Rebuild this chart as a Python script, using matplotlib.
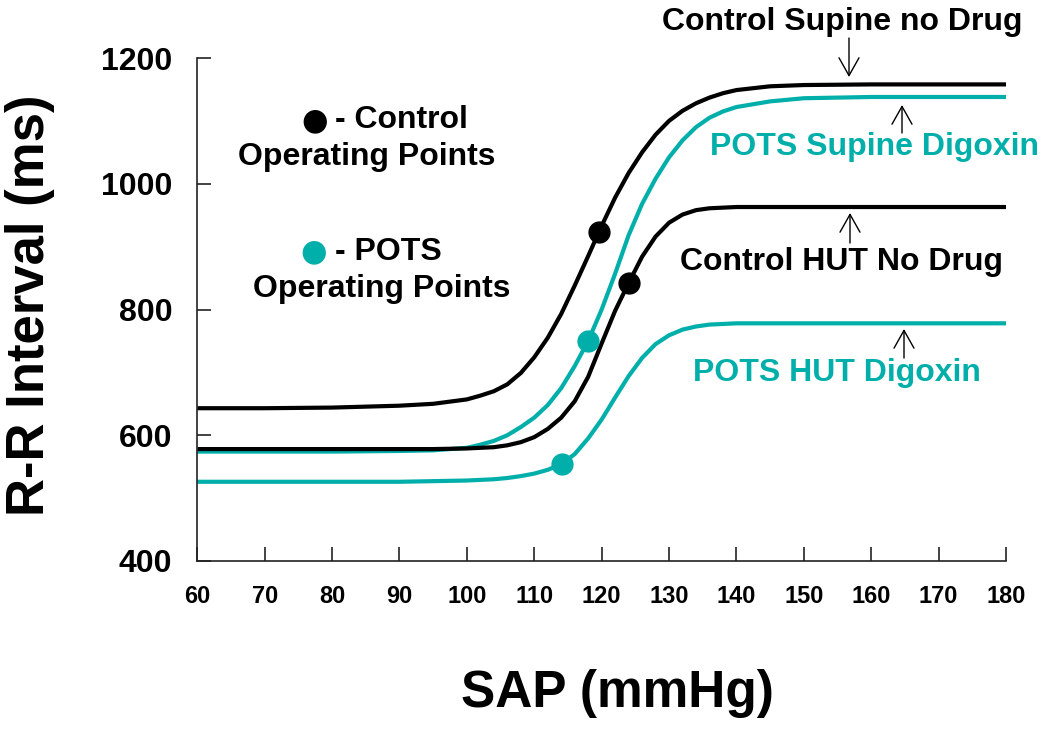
import matplotlib
matplotlib.use("Agg")
import matplotlib.pyplot as plt

plt.rcParams['font.family'] = ['Liberation Sans', 'DejaVu Sans']
plt.rcParams['font.weight'] = 'bold'

teal = "#00AFAA"

# SAP (mmHg) sample points
sap = [60, 70, 80, 90, 95, 100, 102, 104, 106, 108, 110, 112, 114, 116, 118, 120,
       122, 124, 126, 128, 130, 132, 134, 136, 138, 140, 145, 150, 160, 170, 180]

ctrl_supine = [643, 643, 644, 647, 650, 657, 663, 670, 681, 699, 724, 755, 793, 838, 885, 933,
               978, 1017, 1050, 1078, 1100, 1116, 1128, 1137, 1144, 1149, 1155, 1157, 1158, 1158, 1158]
ctrl_hut = [578, 578, 578, 578, 578, 579, 580, 581, 584, 589, 597, 610, 628, 654, 693, 746,
            798, 842, 884, 916, 938, 951, 958, 961, 962, 963, 963, 963, 963, 963, 963]
pots_supine = [574, 574, 574, 575, 576, 580, 585, 591, 600, 613, 628, 648, 675, 710, 750, 800,
               857, 918, 968, 1008, 1042, 1069, 1090, 1105, 1115, 1122, 1131, 1136, 1138, 1138, 1138]
pots_hut = [526, 526, 526, 526, 527, 528, 529, 530, 532, 535, 539, 545, 554, 570, 595, 625,
            660, 694, 723, 745, 759, 768, 773, 776, 777, 778, 778, 778, 778, 778, 778]

# operating points
ctrl_op_sap = [119.6, 124.0]
ctrl_op_rr = [923, 842]
pots_op_sap = [118.0, 114.1]
pots_op_rr = [750, 555]

W, H = 1050, 733
fig = plt.figure(figsize=(10.5, 7.33), dpi=100)
ax = fig.add_axes([197.3/W, 1-561/H, 808.7/W, 503/H])

def px(x, y):
    return (x/W, 1-y/H)

ax.plot(sap, ctrl_supine, color="black", lw=3, solid_capstyle="butt")
ax.plot(sap, pots_supine, color=teal, lw=3, solid_capstyle="butt")
ax.plot(sap, ctrl_hut, color="black", lw=3, solid_capstyle="butt")
ax.plot(sap, pots_hut, color=teal, lw=3, solid_capstyle="butt")
ax.plot(ctrl_op_sap, ctrl_op_rr, "o", color="black", ms=15, ls="none")
ax.plot(pots_op_sap, pots_op_rr, "o", color=teal, ms=15, ls="none")

ax.set_xlim(60, 180)
ax.set_ylim(400, 1200)
ax.set_xticks(range(60, 181, 10))
ax.set_yticks(range(400, 1201, 200))
ax.spines['top'].set_visible(False)
ax.spines['right'].set_visible(False)
for s in ['left', 'bottom']:
    ax.spines[s].set_linewidth(1.2)
    ax.spines[s].set_color("#222222")
ax.tick_params(axis='both', direction='in', length=10, width=1.2, color="#222222")
ax.tick_params(axis='x', labelsize=17, pad=17)
ax.tick_params(axis='y', labelsize=23, pad=18)
for lab in ax.get_xticklabels() + ax.get_yticklabels():
    lab.set_fontweight('bold')

fig.text(*px(617, 693), "SAP (mmHg)", fontsize=37, fontweight='bold', ha='center', va='center')
fig.text(*px(30, 305), "R-R Interval (ms)", fontsize=38, fontweight='bold',
         ha='center', va='center', rotation=90)

# left-hand key
fig.text(*px(315, 121), "\u25CF", color="black", fontsize=22, ha='center', va='center',
         family=['DejaVu Sans'])
fig.text(*px(335, 120), "- Control", fontsize=23, fontweight='bold', ha='left', va='center')
fig.text(*px(367, 157), "Operating Points", fontsize=23, fontweight='bold', ha='center', va='center')
fig.text(*px(314, 252), "\u25CF", color=teal, fontsize=22, ha='center', va='center',
         family=['DejaVu Sans'])
fig.text(*px(335, 252), "- POTS", fontsize=23, fontweight='bold', ha='left', va='center')
fig.text(*px(382, 289), "Operating Points", fontsize=23, fontweight='bold', ha='center', va='center')

# curve labels with arrows
labels = [
    ("Control Supine no Drug", "black", (842, 22), (849, 38), (849, 77)),
    ("POTS Supine Digoxin", teal, (874, 147), (902, 133), (902, 105)),
    ("Control HUT No Drug", "black", (842, 262), (850, 243), (850, 213)),
    ("POTS HUT Digoxin", teal, (837, 373), (904, 358), (904, 329)),
]
for txt, col, tpos, tail, head in labels:
    fig.text(*px(*tpos), txt, color=col, fontsize=23, fontweight='bold', ha='center', va='center')
    ax.annotate('', xy=px(*head), xytext=px(*tail), xycoords='figure fraction',
                textcoords='figure fraction',
                arrowprops=dict(arrowstyle='->,head_length=0.64,head_width=0.36',
                                color='black', lw=1, mutation_scale=20,
                                shrinkA=0, shrinkB=0))

fig.savefig("out.png", dpi=100)
